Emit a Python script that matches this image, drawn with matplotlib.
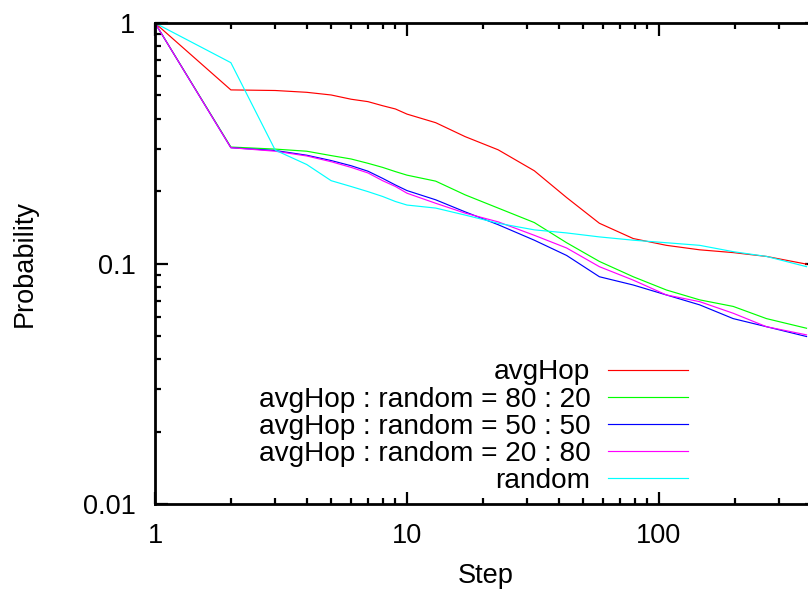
import matplotlib
matplotlib.use("Agg")
import matplotlib.pyplot as plt
from matplotlib.ticker import LogLocator, NullFormatter, FixedFormatter, FixedLocator

plt.rcParams["font.family"] = ["Liberation Sans", "DejaVu Sans"]

# values (log-log, cumulative probability vs step)
steps = [1, 2, 3, 4, 5, 6, 7, 8, 9, 10, 13, 17, 23, 32, 43, 58, 79, 107, 145, 197, 267, 385]
avg_hop = [1, 0.527, 0.524, 0.515, 0.502, 0.482, 0.471, 0.453, 0.439, 0.418, 0.385,
           0.337, 0.297, 0.243, 0.188, 0.147, 0.127, 0.119, 0.114, 0.111, 0.107, 0.0994]
mix_80_20 = [1, 0.305, 0.299, 0.293, 0.281, 0.272, 0.261, 0.251, 0.241, 0.233, 0.220,
             0.193, 0.170, 0.148, 0.122, 0.102, 0.0881, 0.0776, 0.0706, 0.0663, 0.0590, 0.0538]
mix_50_50 = [1, 0.303, 0.295, 0.282, 0.268, 0.255, 0.242, 0.226, 0.212, 0.201, 0.184,
             0.164, 0.145, 0.125, 0.108, 0.0881, 0.0814, 0.0740, 0.0673, 0.0590, 0.0546, 0.0497]
mix_20_80 = [1, 0.303, 0.293, 0.280, 0.265, 0.251, 0.238, 0.221, 0.209, 0.196, 0.178,
             0.162, 0.149, 0.131, 0.116, 0.097, 0.0853, 0.0740, 0.0694, 0.0621, 0.0546, 0.0505]
rand = [1, 0.684, 0.296, 0.258, 0.221, 0.209, 0.199, 0.190, 0.181, 0.175, 0.170,
        0.159, 0.147, 0.138, 0.134, 0.129, 0.125, 0.122, 0.119, 0.112, 0.107, 0.097]

series = [
    ("avgHop", avg_hop, "#ff0000"),
    ("avgHop : random = 80 : 20", mix_80_20, "#00ff00"),
    ("avgHop : random = 50 : 50", mix_50_50, "#0000ff"),
    ("avgHop : random = 20 : 80", mix_20_80, "#ff00ff"),
    ("random", rand, "#00ffff"),
]
xticks = [1, 10, 100, 1000]
xtick_labels = ["1", "10", "100", "1000"]
yticks = [0.01, 0.1, 1]
ytick_labels = ["0.01", "0.1", "1"]

FS = 19.5

fig = plt.figure(figsize=(8.08, 5.91), dpi=100)
# right edge of the axes sits just outside the canvas, as in the reference
ax = fig.add_axes([155 / 808, 87 / 591, 662 / 808, 481 / 591])

for label, vals, color in series:
    ax.plot(steps, vals, color=color, lw=0.85, label=label)

ax.set_xscale("log"); ax.set_yscale("log")
ax.set_xlim(1, 10 ** (662 / 252)); ax.set_ylim(0.01, 1)
ax.xaxis.set_major_locator(FixedLocator(xticks))
ax.xaxis.set_major_formatter(FixedFormatter(xtick_labels))
ax.yaxis.set_major_locator(FixedLocator(yticks))
ax.yaxis.set_major_formatter(FixedFormatter(ytick_labels))
ax.xaxis.set_minor_locator(LogLocator(base=10, subs=range(2, 10)))
ax.yaxis.set_minor_locator(LogLocator(base=10, subs=range(2, 10)))
ax.xaxis.set_minor_formatter(NullFormatter())
ax.yaxis.set_minor_formatter(NullFormatter())

for s in ax.spines.values():
    s.set_linewidth(2.0)
ax.tick_params(which="both", direction="in", top=True, right=True, width=1.6, labelsize=FS)
ax.tick_params(which="major", length=9)
ax.tick_params(which="minor", length=4)
ax.tick_params(axis="x", which="major", pad=14)
ax.tick_params(axis="y", which="major", pad=14)

ax.set_xlabel("Step", fontsize=FS, labelpad=10)
ax.set_ylabel("Probability", fontsize=FS, labelpad=32)

ax.legend(loc="lower right", bbox_to_anchor=(533 / 662, 0.021), frameon=False,
          markerfirst=False, fontsize=20.2, handlelength=2.85, handletextpad=0.63,
          labelspacing=0.04, borderpad=0, borderaxespad=0)

fig.savefig("out.png", dpi=100)
